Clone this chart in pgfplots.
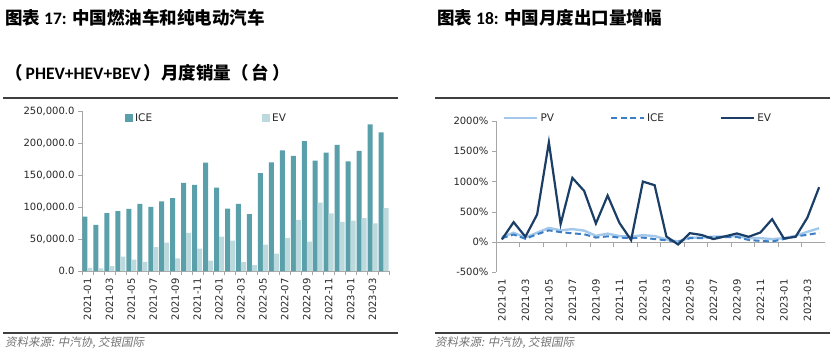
\documentclass[border=0pt]{standalone}
\usepackage{pgfplots}
\pgfplotsset{compat=1.18}
\usepackage{fontspec}
\setmainfont{DejaVu Sans}
\newfontfamily\cjk{Noto Sans CJK SC}
\newfontfamily\cjkit[FakeSlant=0.2]{Noto Sans CJK SC}
\newfontfamily\lat{Carlito}
\definecolor{iceBar}{HTML}{5AA0AA}
\definecolor{evBar}{HTML}{BCD9DE}
\definecolor{evLine}{HTML}{1A3E66}
\definecolor{iceLine}{HTML}{3C7DC4}
\definecolor{pvLine}{HTML}{A4C8EA}
\definecolor{axgray}{HTML}{A6A6A6}
\definecolor{txt}{HTML}{262626}
\definecolor{rule}{HTML}{3F3F3F}

\pgfplotstableread{
x ice ev
0 85000 4700
1 72000 4200
2 90600 7800
3 93700 22400
4 96900 17700
5 104700 14100
6 100000 37500
7 108900 44300
8 114000 19800
9 137500 59400
10 134400 34900
11 169300 16100
12 130200 53600
13 97400 47400
14 104700 14000
15 89000 9000
16 153100 41100
17 169800 27100
18 188500 51600
19 179700 79700
20 203100 45800
21 172400 106800
22 184900 90100
23 196900 76600
24 171300 78600
25 187500 82800
26 229200 74500
27 216700 98400
}\salestable

\pgfplotstableread{
x pv ice ev
0 80 60 39
1 150 120 325
2 70 50 83
3 150 125 452
4 230 190 1647
5 190 160 292
6 210 140 1058
7 185 125 843
8 100 70 303
9 135 90 766
10 95 70 314
11 85 60 28
12 110 70 997
13 95 45 937
14 40 25 88
15 5 0 -45
16 70 60 143
17 70 60 113
18 85 80 45
19 90 75 90
20 95 80 138
21 60 30 83
22 60 15 154
23 45 5 375
24 60 45 55
25 100 90 83
26 165 115 400
27 225 150 904
}\growthtable

\begin{document}
\begin{tikzpicture}[x=1pt,y=1pt]
\useasboundingbox (0,0) rectangle (835,359);
% titles
\node[anchor=west,inner sep=0] at (5,341) {\fontsize{17.5}{20}\selectfont\cjk\bfseries 图表 {\lat\bfseries 17:} 中国燃油车和纯电动汽车};
\node[anchor=west,inner sep=0] at (5,286) {\fontsize{17.5}{20}\selectfont\cjk\bfseries （\hspace{3pt}{\lat\bfseries PHEV+HEV+BEV}\hspace{3pt}）月度销量（\hspace{3pt}台\hspace{3pt}）};
\node[anchor=west,inner sep=0] at (437,341) {\fontsize{17.5}{20}\selectfont\cjk\bfseries 图表 {\lat\bfseries 18:} 中国月度出口量增幅};
% rules
\draw[rule,line width=1.5pt] (3,261) -- (398,261);
\draw[rule,line width=1.5pt] (435,261) -- (830,261);
\draw[rule,line width=1.2pt] (3,26) -- (398,26);
\draw[rule,line width=1.2pt] (435,26) -- (830,26);
% sources
\node[anchor=west,inner sep=0,text=gray!90!black] at (5,16) {\fontsize{11.5}{13}\selectfont\cjkit 资料来源: 中汽协, 交银国际};
\node[anchor=west,inner sep=0,text=gray!90!black] at (435,16) {\fontsize{11.5}{13}\selectfont\cjkit 资料来源: 中汽协, 交银国际};

% left chart
\begin{axis}[
  at={(82pt,88pt)}, anchor=south west, scale only axis,
  width=307pt, height=160pt,
  xmin=-0.5, xmax=27.5, ymin=0, ymax=250000,
  axis x line=bottom, axis y line=left,
  axis line style={draw=axgray,-},
  ybar, bar width=5pt,
  tick align=outside,
  xtick={0,2,...,26},
  xticklabels={2021-01,2021-03,2021-05,2021-07,2021-09,2021-11,2022-01,2022-03,2022-05,2022-07,2022-09,2022-11,2023-01,2023-03},
  major x tick style={draw=none},
  minor xtick={-0.5,0.5,...,27.5},
  minor tick length=4pt,
  minor x tick style={draw=axgray},
  ytick={0,50000,100000,150000,200000,250000},
  major tick length=4pt,
  ytick style={draw=axgray},
  scaled y ticks=false,
  /pgf/number format/assume math mode=true,
  yticklabel style={/pgf/number format/fixed,/pgf/number format/fixed zerofill,/pgf/number format/precision=1,/pgf/number format/1000 sep={,}},
  tick label style={font=\fontsize{10}{12}\selectfont, text=txt},
  xticklabel style={rotate=90, anchor=east},
  legend style={at={(0.13,0.955)}, anchor=west, draw=none, fill=none, legend columns=2,
    font=\fontsize{10.5}{12}\selectfont, text=txt,
    /tikz/every even column/.append style={column sep=108pt}},
  legend image code/.code={\fill[#1] (0pt,-4pt) rectangle (8pt,4pt);},
]
\addplot[fill=iceBar, draw=none, bar shift=-2.5pt] table[x=x,y=ice] {\salestable};
\addplot[fill=evBar, draw=none, bar shift=2.5pt] table[x=x,y=ev] {\salestable};
\legend{ICE,EV}
\end{axis}

% right chart
\begin{axis}[
  at={(496pt,87pt)}, anchor=south west, scale only axis,
  width=329pt, height=151pt,
  xmin=-0.5, xmax=27.5, ymin=-500, ymax=2000,
  axis x line=bottom, axis y line=left,
  x axis line style={draw=none},
  y axis line style={draw=axgray,-},
  tick align=outside,
  xtick={0,2,...,26},
  xticklabels={2021-01,2021-03,2021-05,2021-07,2021-09,2021-11,2022-01,2022-03,2022-05,2022-07,2022-09,2022-11,2023-01,2023-03},
  major x tick style={draw=none},
  ytick={-500,0,500,1000,1500,2000},
  major tick length=4pt,
  ytick style={draw=axgray},
  yticklabel={\pgfmathprintnumber[assume math mode=true,1000 sep={}]{\tick}\%},
  tick label style={font=\fontsize{10}{12}\selectfont, text=txt},
  xticklabel style={rotate=90, anchor=east},
  legend style={at={(0.012,1.02)}, anchor=west, draw=none, fill=none, legend columns=3,
    font=\fontsize{10.5}{12}\selectfont, text=txt,
    /tikz/every even column/.append style={column sep=54pt}},
  legend image code/.code={\draw[#1] (0pt,0pt) -- (33pt,0pt);},
]
\draw[axgray] (axis cs:-0.5,0) -- (axis cs:27.5,0);
\pgfplotsinvokeforeach{-0.5,1.5,...,27.5}{\draw[axgray] (axis cs:#1,0) -- ([yshift=-5pt]axis cs:#1,0);}
\addplot[pvLine, line width=2.4pt, no marks] table[x=x,y=pv] {\growthtable};
\addplot[iceLine, line width=2pt, dash pattern=on 6pt off 3.5pt, no marks] table[x=x,y=ice] {\growthtable};
\addplot[evLine, line width=2.2pt, no marks] table[x=x,y=ev] {\growthtable};
\legend{PV,ICE,EV}
\end{axis}
\end{tikzpicture}
\end{document}
